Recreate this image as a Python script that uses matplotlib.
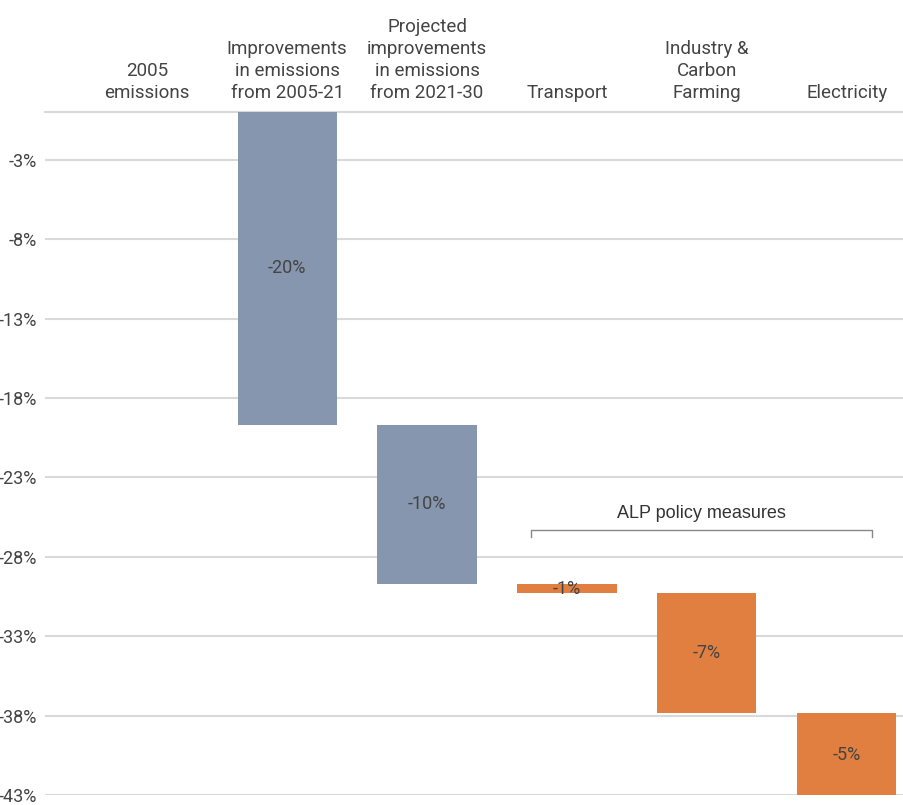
import matplotlib.pyplot as plt
from matplotlib import font_manager

# data
categories = ["2005\nemissions", "Improvements\nin emissions\nfrom 2005-21",
              "Projected\nimprovements\nin emissions\nfrom 2021-30", "Transport",
              "Industry &\nCarbon\nFarming", "Electricity"]
changes = [0, -19.7, -10.0, -0.6, -7.5, -5.3]
value_labels = ["", "-20%", "-10%", "-1%", "-7%", "-5%"]
is_policy = [False, False, False, True, True, True]
y_ticks = [-3, -8, -13, -18, -23, -28, -33, -38, -43]

installed = {f.name for f in font_manager.fontManager.ttflist}
narrow = "Liberation Sans Narrow" if "Liberation Sans Narrow" in installed else "Roboto"
plt.rcParams['font.family'] = [narrow, 'DejaVu Sans']

GREY = "#8596AE"
ORANGE = "#E07F3F"
TEXT = "#444444"

fig = plt.figure(figsize=(9.04, 8.05), dpi=100)
ax = fig.add_axes([0.05, 0.012, 0.95, 0.849])

# waterfall: each bar starts where the previous one ended
start = 0
for i, ch in enumerate(changes):
    if ch != 0:
        col = ORANGE if is_policy[i] else GREY
        ax.bar(i, ch, bottom=start, width=0.71, color=col, zorder=3)
        ax.text(i, start + ch / 2, value_labels[i], ha="center", va="center",
                fontsize=13, color=TEXT, zorder=4)
    start += ch

ax.set_xlim(-0.73, 5.41)
ax.set_ylim(-43, 0)
ax.set_yticks(y_ticks)
ax.set_yticklabels([f"{t}%" for t in y_ticks], fontsize=13, color=TEXT)
ax.yaxis.grid(True, color="#D9D9D9", linewidth=1.5, zorder=0)
ax.tick_params(axis="y", length=0, pad=6)

ax.xaxis.tick_top()
ax.set_xticks(range(len(categories)))
ax.set_xticklabels(categories, fontsize=13.5, color=TEXT, linespacing=1.3)
ax.tick_params(axis="x", length=0, pad=7)

for s in ["left", "right", "bottom"]:
    ax.spines[s].set_visible(False)
ax.spines["top"].set_color("#D9D9D9")
ax.spines["top"].set_linewidth(1.5)

# bracket for policy measures
bx0, bx1, by = 2.74, 5.18, -26.3
ax.plot([bx0, bx0, bx1, bx1], [by - 0.45, by, by, by - 0.45], color="#888888",
        linewidth=1, zorder=4)
ax.text((bx0 + bx1) / 2, by + 0.5, "ALP policy measures", ha="center", va="bottom",
        fontsize=13, color="#333333", family=["Liberation Sans", "DejaVu Sans"])

fig.savefig("out.png", dpi=100)
